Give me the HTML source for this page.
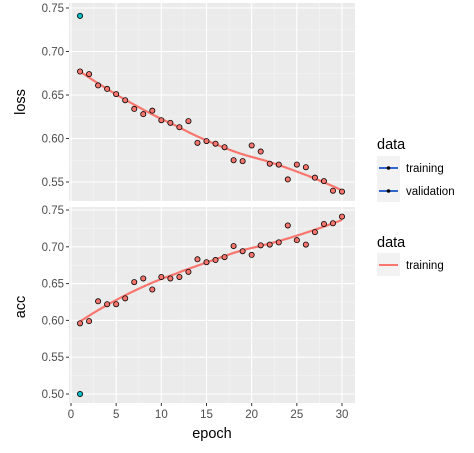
<!DOCTYPE html>
<html><head><meta charset="utf-8"><style>
body{margin:0;background:#fff;}
svg text{font-family:"Liberation Sans",Arial,sans-serif;}
</style></head><body>
<svg id="c" width="474" height="448" xmlns="http://www.w3.org/2000/svg"></svg>
<script>
const epochs=[1,2,3,4,5,6,7,8,9,10,11,12,13,14,15,16,17,18,19,20,21,22,23,24,25,26,27,28,29,30];
const lossTrain=[0.677,0.674,0.661,0.657,0.651,0.644,0.634,0.628,0.632,0.621,0.618,0.613,0.620,0.595,0.597,0.594,0.590,0.575,0.574,0.592,0.585,0.571,0.570,0.553,0.570,0.567,0.555,0.551,0.540,0.539];
const accTrain=[0.596,0.599,0.626,0.622,0.622,0.630,0.652,0.657,0.642,0.659,0.657,0.659,0.666,0.683,0.679,0.682,0.686,0.701,0.694,0.689,0.702,0.703,0.706,0.729,0.709,0.703,0.720,0.731,0.732,0.741];
const valEpochs=[1];
const lossVal=[0.741];
const accVal=[0.500];
const xTicks=[0,5,10,15,20,25,30];
const lossTicks=[0.55,0.60,0.65,0.70,0.75];
const accTicks=[0.50,0.55,0.60,0.65,0.70,0.75];

const svg=document.getElementById('c');
const NS='http://www.w3.org/2000/svg';
function mk(t,a,p){const e=document.createElementNS(NS,t);for(const k in a)e.setAttribute(k,a[k]);(p||svg).appendChild(e);return e;}
const X0=69,X1=355;
const x=v=>71+(v-0)*(342-71)/30;
const panels=[
 {name:'loss',top:3,bot:201,y:v=>8+(0.75-v)*(182-8)/0.2,ticks:lossTicks,tr:lossTrain,va:lossVal,lab:'loss',ly:102},
 {name:'acc',top:207,bot:403,y:v=>210+(0.75-v)*(394-210)/0.25,ticks:accTicks,tr:accTrain,va:accVal,lab:'acc',ly:307}
];
function solve3(A,b){
  const M=A.map((r,i)=>[...r,b[i]]);
  for(let i=0;i<3;i++){let p=i;for(let k=i+1;k<3;k++)if(Math.abs(M[k][i])>Math.abs(M[p][i]))p=k;[M[i],M[p]]=[M[p],M[i]];
    for(let k=i+1;k<3;k++){const f=M[k][i]/M[i][i];for(let j=i;j<4;j++)M[k][j]-=f*M[i][j];}}
  const r=[0,0,0];for(let i=2;i>=0;i--){let s=M[i][3];for(let j=i+1;j<3;j++)s-=M[i][j]*r[j];r[i]=s/M[i][i];}return r;
}
function loess(xs,ys,span){
  const n=xs.length,q=Math.floor(span*n),out=[];
  for(let i=0;i<=60;i++){
    const x0=xs[0]+(xs[n-1]-xs[0])*i/60;
    const d=xs.map(v=>Math.abs(v-x0));const md=[...d].sort((a,b)=>a-b)[q-1]*1.0001;
    const w=d.map(v=>{const u=v/md;return u<1?Math.pow(1-u*u*u,3):0;});
    const S=[0,0,0,0,0],T=[0,0,0];
    for(let j=0;j<n;j++){const u=xs[j]-x0;let p=1;for(let k=0;k<5;k++){S[k]+=w[j]*p;if(k<3)T[k]+=w[j]*p*ys[j];p*=u;}}
    const c=solve3([[S[0],S[1],S[2]],[S[1],S[2],S[3]],[S[2],S[3],S[4]]],T);
    out.push([x0,c[0]]);
  }
  return out;
}
panels.forEach(p=>{
  const g=mk('g',{});
  
  
  mk('rect',{x:X0,y:p.top,width:X1-X0,height:p.bot-p.top,fill:'#ebebeb'},g);
  for(let i=0;i<xTicks.length;i++){const v=xTicks[i]+2.5;if(x(v)<X1)mk('line',{x1:x(v),x2:x(v),y1:p.top,y2:p.bot,stroke:'#f5f5f5','stroke-width':0.6},g);}
  for(let i=0;i<p.ticks.length-1;i++){const v=(p.ticks[i]+p.ticks[i+1])/2;mk('line',{x1:X0,x2:X1,y1:p.y(v),y2:p.y(v),stroke:'#f5f5f5','stroke-width':0.6},g);}
  const tmin=p.ticks[0]-0.025;if(p.y(tmin)<p.bot)mk('line',{x1:X0,x2:X1,y1:p.y(tmin),y2:p.y(tmin),stroke:'#f5f5f5','stroke-width':0.6},g);
  xTicks.forEach(v=>mk('line',{x1:x(v),x2:x(v),y1:p.top,y2:p.bot,stroke:'#fff','stroke-width':1.1},g));
  p.ticks.forEach(v=>{
    mk('line',{x1:X0,x2:X1,y1:p.y(v),y2:p.y(v),stroke:'#fff','stroke-width':1.1},g);
    mk('line',{x1:X0-3,x2:X0,y1:p.y(v),y2:p.y(v),stroke:'#333','stroke-width':1},g);
    const t=mk('text',{x:X0-5,y:p.y(v)+4,'text-anchor':'end','font-size':11.5,fill:'#4d4d4d'},g);t.textContent=v.toFixed(2);
    
    
  });
  const sm=loess(epochs,p.tr,0.75);
  const line=mk('path',{d:'M'+sm.map(a=>x(a[0]).toFixed(1)+','+p.y(a[1]).toFixed(1)).join('L'),fill:'none',stroke:'#f8766d','stroke-width':2.2},g);
  
  
  epochs.forEach((e,i)=>{const c=mk('circle',{cx:x(e),cy:p.y(p.tr[i]),r:2.6,fill:'#f8766d',stroke:'#000','stroke-width':0.8},g);
    
    });
  valEpochs.forEach((e,i)=>{const c=mk('circle',{cx:x(e),cy:p.y(p.va[i]),r:2.6,fill:'#00bfc4',stroke:'#000','stroke-width':0.8},g);
    
    });
  const yl=mk('text',{x:0,y:0,transform:`translate(25,${p.ly}) rotate(-90)`,'text-anchor':'middle','font-size':14.5,fill:'#000'});yl.textContent=p.lab;
  
  
});
xTicks.forEach(v=>{
  mk('line',{x1:x(v),x2:x(v),y1:403,y2:406,stroke:'#333','stroke-width':1});
  const t=mk('text',{x:x(v),y:418,'text-anchor':'middle','font-size':11.5,fill:'#4d4d4d'});t.textContent=v;
  
  
});
const xl=mk('text',{x:212,y:438,'text-anchor':'middle','font-size':14.5,fill:'#000'});xl.textContent='epoch';


function legendTitle(y){const t=mk('text',{x:377,y:y,'font-size':14.5,fill:'#000'});t.textContent='data';}
legendTitle(149);
mk('rect',{x:377,y:156,width:23,height:46,fill:'#f2f2f2'});
[['training',168],['validation',191]].forEach(a=>{
  const g=mk('g',{});
  
  
  mk('line',{x1:379,x2:398,y1:a[1],y2:a[1],stroke:'#3366cc','stroke-width':2},g);
  mk('circle',{cx:388.5,cy:a[1],r:1.8,fill:'#000'},g);
  const t=mk('text',{x:406,y:a[1]+4,'font-size':11.5,fill:'#000'},g);t.textContent=a[0];
});
legendTitle(247);
mk('rect',{x:377,y:253,width:23,height:23,fill:'#f2f2f2'});
const g2=mk('g',{});


mk('line',{x1:379,x2:398,y1:265,y2:265,stroke:'#f8766d','stroke-width':2},g2);
const t2=mk('text',{x:406,y:269,'font-size':11.5,fill:'#000'},g2);t2.textContent='training';
</script>
</body></html>
